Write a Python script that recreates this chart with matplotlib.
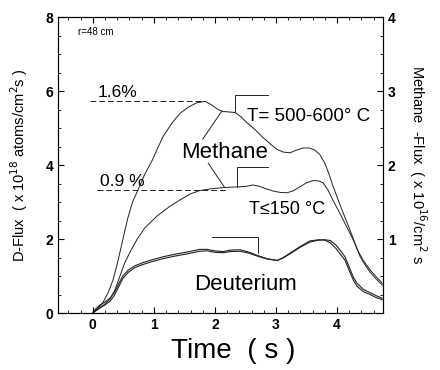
import matplotlib
matplotlib.use("Agg")
import matplotlib.pyplot as plt
from matplotlib.ticker import MultipleLocator

plt.rcParams['font.family'] = ['Liberation Sans', 'DejaVu Sans']

# methane flux, T = 500-600 C (plotted in left-axis units)
t_ch4_hot = [0.00, 0.08, 0.16, 0.25, 0.33, 0.41, 0.49, 0.57, 0.65, 0.74, 0.85, 0.97,
             1.06, 1.15, 1.29, 1.43, 1.57, 1.70, 1.84, 1.95, 2.05, 2.13, 2.25, 2.33,
             2.43, 2.52, 2.66, 2.79, 2.92, 3.02, 3.12, 3.23, 3.33, 3.44, 3.55, 3.64,
             3.72, 3.80, 3.87, 3.93, 4.02, 4.10, 4.18, 4.25, 4.33, 4.43, 4.54, 4.64, 4.74]
y_ch4_hot = [0.00, 0.12, 0.27, 0.55, 0.89, 1.40, 1.98, 2.55, 3.00, 3.33, 3.75, 4.12,
             4.45, 4.77, 5.12, 5.40, 5.57, 5.68, 5.72, 5.62, 5.50, 5.45, 5.43, 5.42,
             5.30, 5.15, 4.95, 4.74, 4.55, 4.42, 4.35, 4.33, 4.40, 4.46, 4.46, 4.40,
             4.28, 4.05, 3.75, 3.45, 3.05, 2.71, 2.38, 2.08, 1.72, 1.42, 1.17, 0.98, 0.81]

# methane flux, T <= 150 C
t_ch4_cold = [0.00, 0.10, 0.20, 0.28, 0.36, 0.44, 0.52, 0.62, 0.72, 0.85, 1.05, 1.25,
              1.43, 1.60, 1.75, 1.95, 2.13, 2.36, 2.50, 2.62, 2.72, 2.85, 2.97, 3.07,
              3.18, 3.28, 3.39, 3.50, 3.61, 3.70, 3.77, 3.85, 3.93, 4.02, 4.10, 4.18,
              4.25, 4.32, 4.38, 4.46, 4.54, 4.64, 4.74]
y_ch4_cold = [0.03, 0.12, 0.25, 0.38, 0.62, 0.98, 1.35, 1.68, 1.98, 2.30, 2.62, 2.87,
              3.06, 3.22, 3.31, 3.36, 3.39, 3.41, 3.42, 3.46, 3.43, 3.35, 3.29, 3.26,
              3.25, 3.30, 3.41, 3.52, 3.58, 3.57, 3.52, 3.33, 3.06, 2.78, 2.52, 2.26,
              2.03, 1.78, 1.52, 1.30, 1.11, 0.92, 0.76]

# deuterium flux, two discharges
t_d = [0.00, 0.05, 0.12, 0.20, 0.28, 0.35, 0.42, 0.49, 0.58, 0.68, 0.80, 0.95,
       1.15, 1.35, 1.55, 1.75, 1.87, 2.00, 2.13, 2.25, 2.41, 2.55, 2.69, 2.85,
       3.02, 3.12, 3.23, 3.40, 3.56, 3.70, 3.80, 3.89, 3.98, 4.06, 4.13, 4.20,
       4.27, 4.33, 4.43, 4.54, 4.64, 4.74]
y_d1 = [0.00, 0.12, 0.22, 0.30, 0.40, 0.55, 0.78, 1.00, 1.16, 1.27, 1.35, 1.43,
        1.52, 1.59, 1.65, 1.72, 1.72, 1.68, 1.66, 1.70, 1.71, 1.65, 1.56, 1.47,
        1.42, 1.50, 1.62, 1.80, 1.95, 1.98, 1.97, 1.90, 1.75, 1.58, 1.43, 1.15,
        0.88, 0.72, 0.58, 0.50, 0.42, 0.36]
y_d2 = [0.00, 0.06, 0.14, 0.22, 0.32, 0.47, 0.70, 0.93, 1.10, 1.22, 1.30, 1.38,
        1.47, 1.54, 1.60, 1.67, 1.68, 1.64, 1.63, 1.66, 1.67, 1.62, 1.54, 1.46,
        1.42, 1.49, 1.60, 1.78, 1.92, 1.97, 1.98, 1.96, 1.84, 1.68, 1.52, 1.24,
        0.96, 0.80, 0.64, 0.55, 0.47, 0.40]

fig = plt.figure(figsize=(4.4, 3.7), dpi=100)
ax = fig.add_axes([0.132, 0.154, 0.738, 0.800])

lc = '#222222'
ax.plot(t_ch4_hot, y_ch4_hot, color=lc, lw=0.7)
ax.plot(t_ch4_cold, y_ch4_cold, color=lc, lw=0.7)
ax.plot(t_d, y_d1, color=lc, lw=0.8)
ax.plot(t_d, y_d2, color=lc, lw=0.8)

# reference levels
ax.plot([-0.05, 1.84], [5.72, 5.72], color=lc, lw=0.7, ls=(0, (6, 3)))
ax.plot([0.07, 2.20], [3.33, 3.33], color=lc, lw=0.7, ls=(0, (6, 3)))
ax.text(0.07, 5.96, '1.6%', fontsize=12.5, va='center')
ax.text(0.11, 3.55, '0.9 %', fontsize=12.5, va='center')

# labels and brackets
ax.text(-0.25, 7.59, 'r=48 cm', fontsize=7, va='center')
ax.plot([2.33, 2.33, 2.87], [5.42, 5.90, 5.90], color=lc, lw=0.7)
ax.text(2.52, 5.31, 'T= 500-600° C', fontsize=13.5, va='center')
ax.plot([2.36, 2.36, 2.87], [3.41, 3.95, 3.95], color=lc, lw=0.7)
ax.text(2.55, 2.79, 'T≤150 °C', fontsize=13, va='center')
ax.plot([1.95, 2.71, 2.71], [2.06, 2.06, 1.62], color=lc, lw=0.7)
ax.text(2.15, 4.35, 'Methane', fontsize=16, ha='center', va='center')
ax.plot([2.11, 1.80], [5.45, 4.70], color=lc, lw=0.7)
ax.plot([1.89, 2.16], [4.05, 3.39], color=lc, lw=0.7)
ax.text(2.50, 0.76, 'Deuterium', fontsize=16, ha='center', va='center')

ax.set_xlim(-0.57, 4.75)
ax.set_ylim(0, 8)
ax.xaxis.set_major_locator(MultipleLocator(1))
ax.xaxis.set_minor_locator(MultipleLocator(0.2))
ax.yaxis.set_major_locator(MultipleLocator(2))
ax.yaxis.set_minor_locator(MultipleLocator(0.5))
ax.tick_params(which='both', direction='in', top=True, labelsize=10)
ax.tick_params(which='major', length=4)
ax.tick_params(which='minor', length=2)
for lab in ax.get_xticklabels() + ax.get_yticklabels():
    lab.set_fontweight('bold')

ax.set_xlabel('Time  ( s )', fontsize=20)
ax.xaxis.set_label_coords(0.54, -0.085)
ax.set_ylabel('D-Flux  ( x 10$^{18}$ atoms/cm$^{2}$s )', fontsize=10.5, labelpad=11)

ax2 = ax.twinx()
ax2.set_ylim(0, 4)
ax2.set_yticks([1, 2, 3, 4])
ax2.yaxis.set_minor_locator(MultipleLocator(0.25))
ax2.tick_params(which='both', direction='in', labelsize=10)
ax2.tick_params(which='major', length=4)
ax2.tick_params(which='minor', length=2)
for lab in ax2.get_yticklabels():
    lab.set_fontweight('bold')
ax2.set_ylabel('Methane  -Flux  ( x 10$^{16}$/cm$^{2}$ s', fontsize=10.5,
               rotation=270, labelpad=24)

fig.savefig('out.png', dpi=100)
